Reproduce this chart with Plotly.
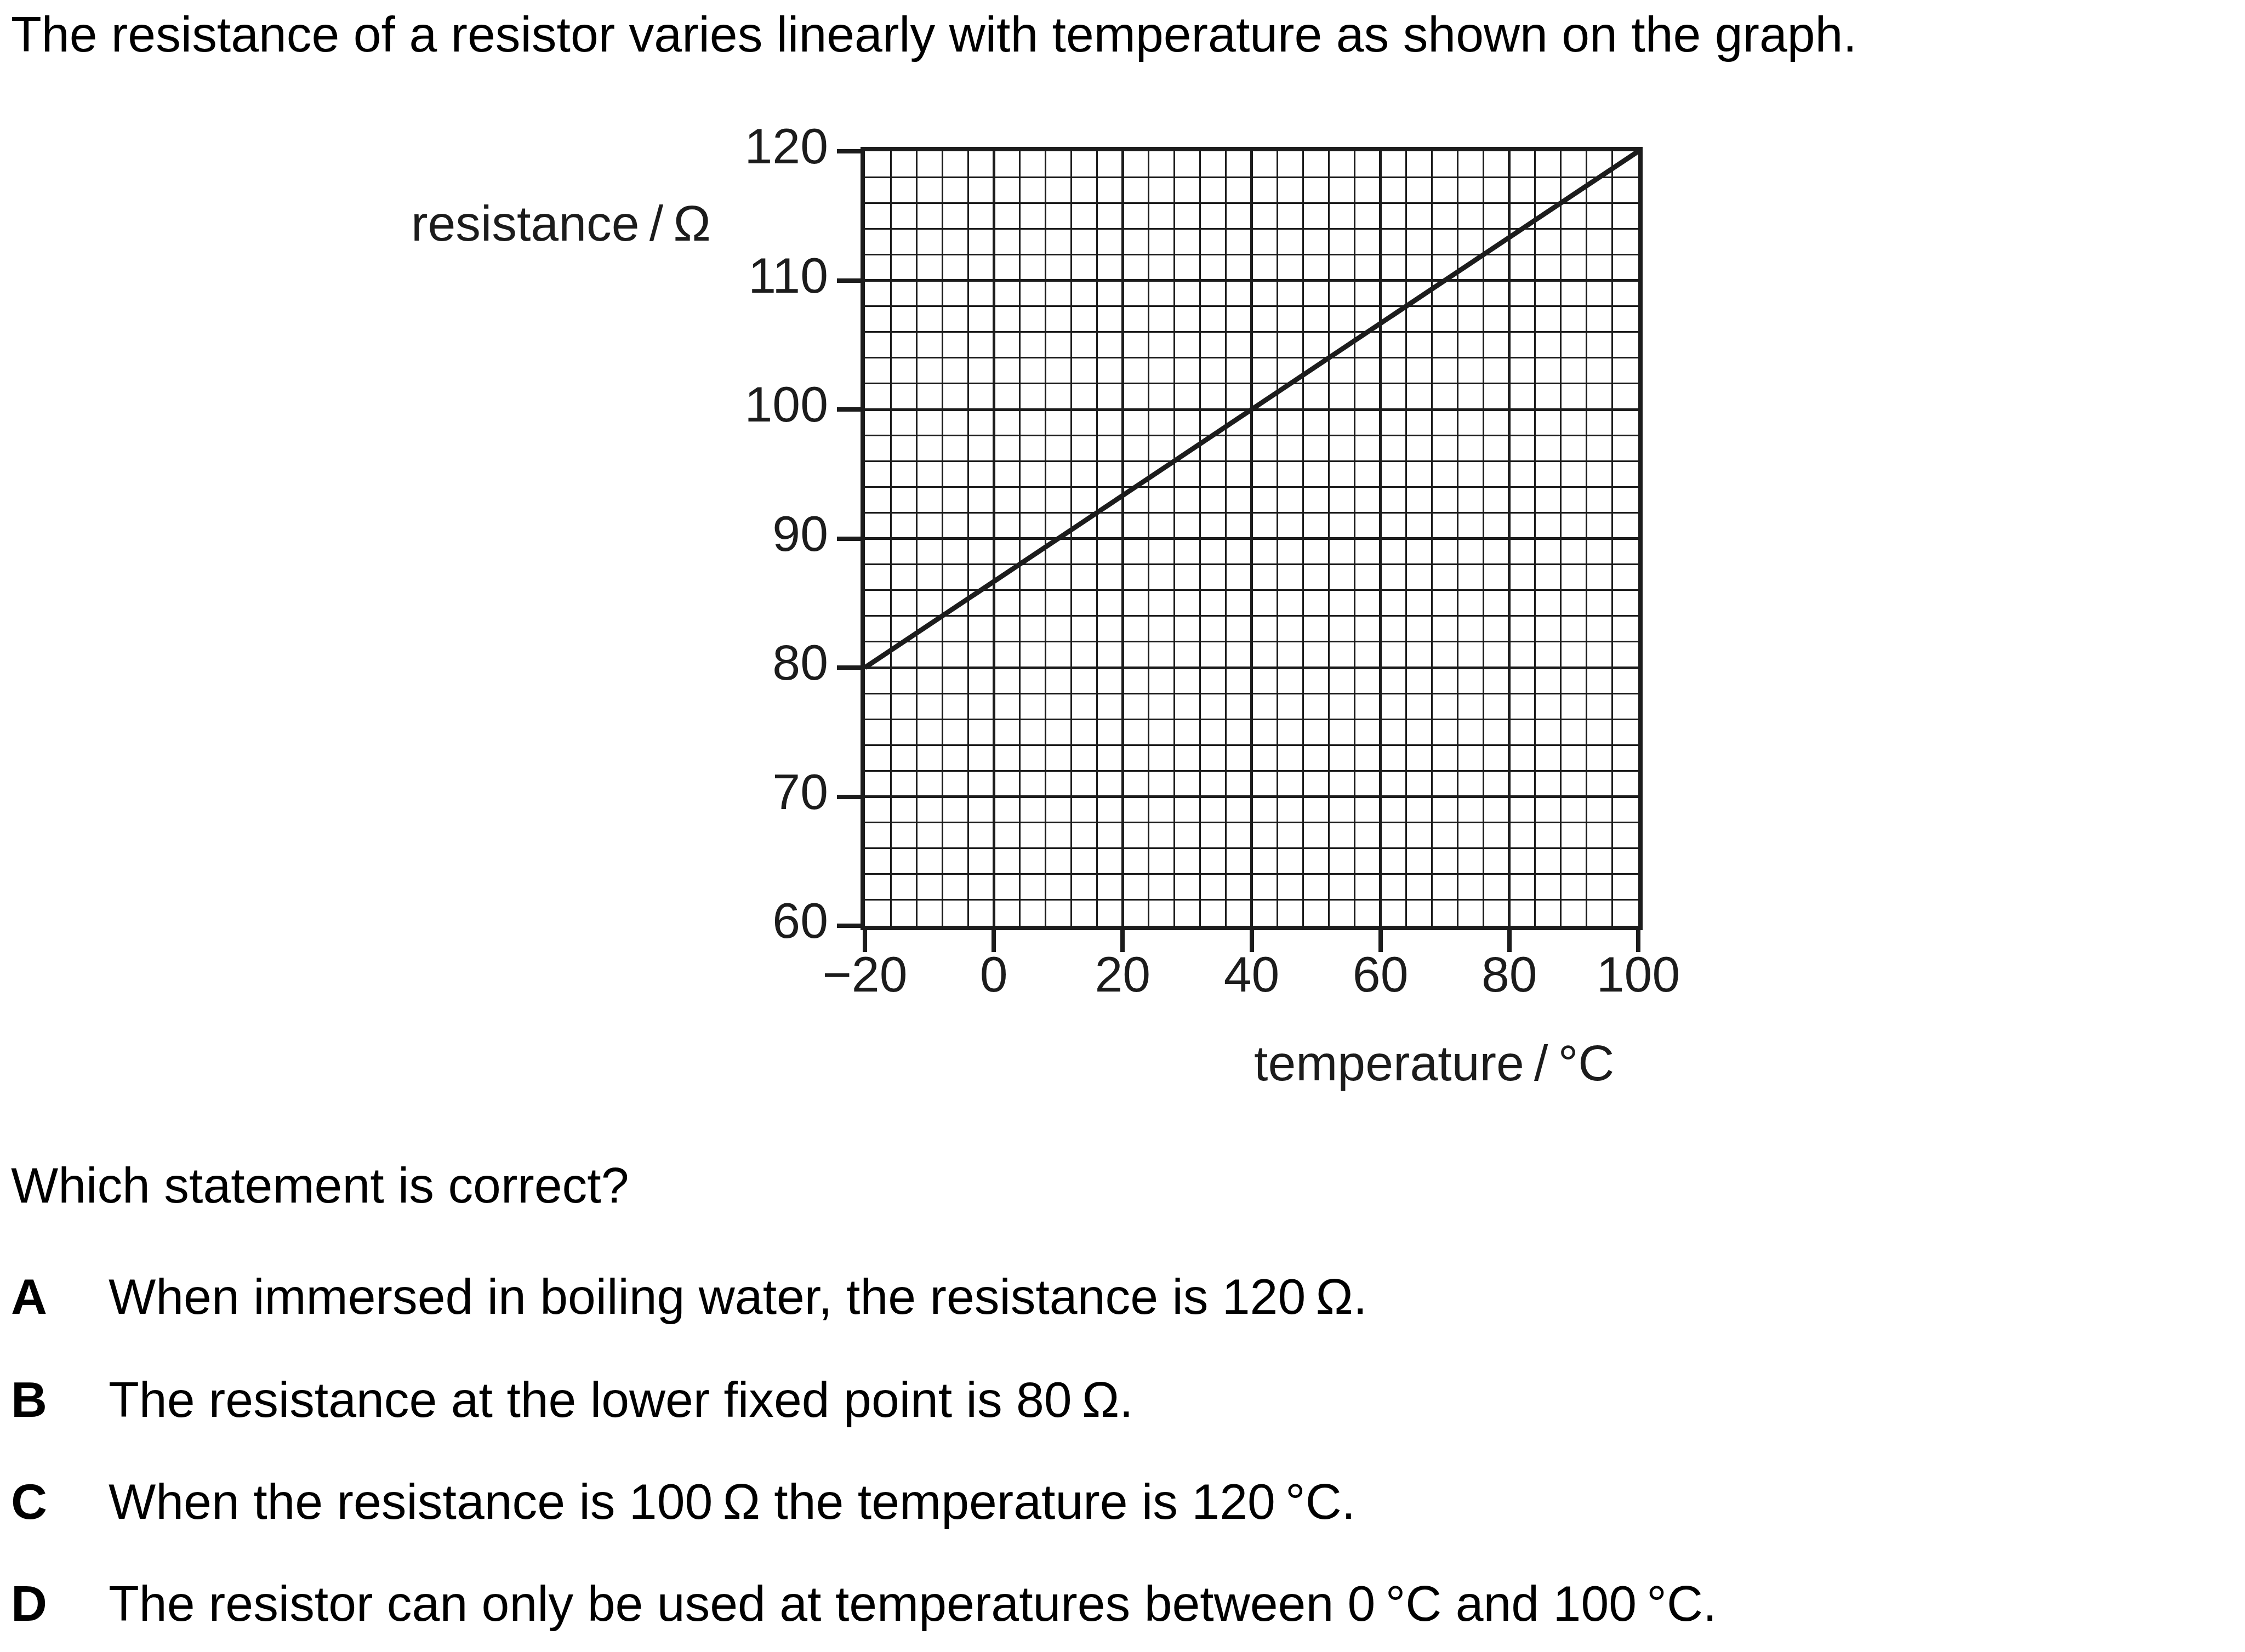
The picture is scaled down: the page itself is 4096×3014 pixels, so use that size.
import plotly.graph_objects as go

# ---------------- data ----------------
temperature = [-20, 100]          # °C
resistance = [80, 120]            # Ω
x_ticks = [-20, 0, 20, 40, 60, 80, 100]
y_ticks = [60, 70, 80, 90, 100, 110, 120]

title_text = "The resistance of a resistor varies linearly with temperature as shown on the graph."
y_label = "resistance\u2009/\u2009Ω"
x_label = "temperature\u2009/\u2009°C"
question = "Which statement is correct?"
option_letters = ["A", "B", "C", "D"]
option_texts = [
    "When immersed in boiling water, the resistance is 120\u2009Ω.",
    "The resistance at the lower fixed point is 80\u2009Ω.",
    "When the resistance is 100\u2009Ω the temperature is 120\u2009°C.",
    "The resistor can only be used at temperatures between 0\u2009°C and 100\u2009°C.",
]

# ---------------- layout geometry ----------------
W, H = 4096, 3014
s = 0.999
L = (1569 + 3) * s
R = (2987 - 3) * s
T = (265.7 + 3) * s
B = (1685.7 - 3) * s

FONT = "Liberation Sans, Arial, Helvetica, sans-serif"
FS = 91.5 * s
INK = "#1c1c1c"
TXT = "#000000"


def px(xr):
    return (xr * s - L) / (R - L)


def py(yr):
    return (B - yr * s) / (B - T)


def ybase(baseline):
    # centre of text box for given baseline (ref px)
    return py(baseline - 38)


fig = go.Figure()
fig.add_trace(go.Scatter(
    x=temperature, y=resistance, mode="lines",
    line=dict(color=INK, width=9),
    cliponaxis=False, showlegend=False, hoverinfo="skip",
))

grid_major = dict(showgrid=True, gridcolor=INK, gridwidth=4.5)
fig.update_xaxes(
    range=[-20, 100], tickmode="array", tickvals=x_ticks,
    ticktext=[("\u2212" + str(-v)) if v < 0 else str(v) for v in x_ticks],
    ticks="outside", ticklen=40 * s, tickwidth=8, tickcolor=INK,
    showline=True, linewidth=7.5, linecolor=INK, mirror=True,
    zeroline=False, **grid_major,
    minor=dict(dtick=4, tick0=0, showgrid=True, gridcolor=INK, gridwidth=2.6, ticks=""),
    tickfont=dict(family=FONT, size=FS, color=INK),
    ticklabelstandoff=-37,
)
fig.update_yaxes(
    range=[60, 120], tickmode="array", tickvals=y_ticks,
    ticks="outside", ticklen=43 * s, tickwidth=8, tickcolor=INK,
    showline=True, linewidth=7.5, linecolor=INK, mirror=True,
    zeroline=False, **grid_major,
    minor=dict(dtick=2, tick0=0, showgrid=True, gridcolor=INK, gridwidth=2.6, ticks=""),
    tickfont=dict(family=FONT, size=FS, color=INK),
    ticklabelstandoff=-2,
    ticklabelshift=-10,
)

ann = []
# title
ann.append(dict(text=title_text, x=px(11), y=ybase(93), xanchor="left", yanchor="middle",
                font=dict(family=FONT, size=FS, color=TXT)))
# axis labels
ann.append(dict(text=y_label, x=px(1293), y=ybase(438), xanchor="right", yanchor="middle",
                font=dict(family=FONT, size=FS, color=INK)))
ann.append(dict(text=x_label, x=px(2281), y=ybase(1971), xanchor="left", yanchor="middle",
                font=dict(family=FONT, size=FS, color=INK)))
# question
ann.append(dict(text=question, x=px(11), y=ybase(2194), xanchor="left", yanchor="middle",
                font=dict(family=FONT, size=FS, color=TXT)))
baselines = [2397, 2585, 2771, 2958]
for letter, txt, bl in zip(option_letters, option_texts, baselines):
    ann.append(dict(text="<b>" + letter + "</b>", x=px(11), y=ybase(bl), xanchor="left",
                    yanchor="middle", font=dict(family=FONT, size=FS, color=TXT)))
    ann.append(dict(text=txt, x=px(189), y=ybase(bl), xanchor="left", yanchor="middle",
                    font=dict(family=FONT, size=FS, color=TXT)))

for a in ann:
    a.update(xref="paper", yref="paper", showarrow=False, align="left")

fig.update_layout(
    width=W, height=H, autosize=False,
    margin=dict(l=L, r=W - R, t=T, b=H - B, pad=0),
    paper_bgcolor="white", plot_bgcolor="white",
    annotations=ann, showlegend=False,
)

fig.write_html("out.html")
